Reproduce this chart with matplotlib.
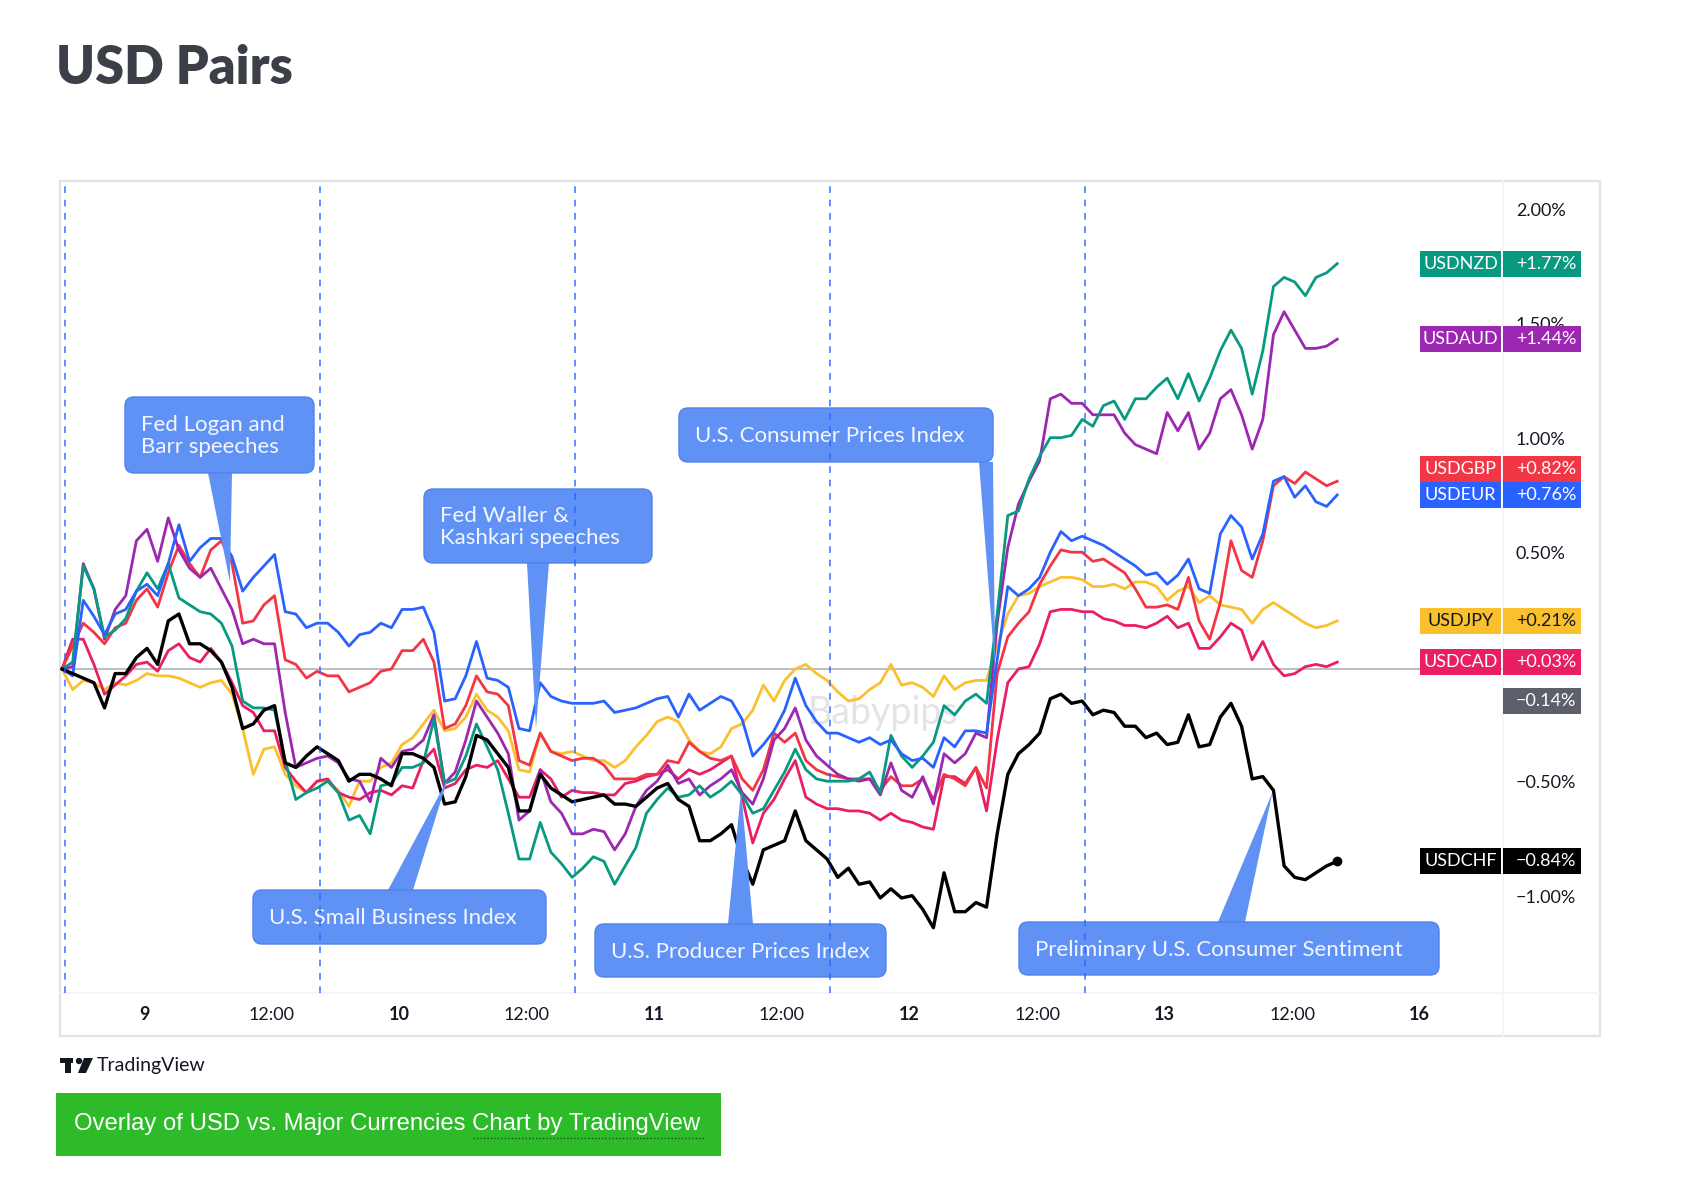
"""USD pairs overlay: % change of USD vs. the majors over one week, with event callouts."""

import matplotlib
matplotlib.use("Agg")
import matplotlib.pyplot as plt
import numpy as np
from matplotlib.lines import Line2D
from matplotlib.patches import Circle, FancyBboxPatch, Polygon, Rectangle
from matplotlib.transforms import Affine2D, blended_transform_factory

W, H = 1698, 1192  # output size in px at dpi 100

plt.rcParams["font.family"] = ["Lato", "DejaVu Sans"]

# --- Data: hourly % change since the first bar (9th -> 13th) ----------------
usdnzd = [
    0.00, 0.03, 0.45, 0.35, 0.14, 0.17, 0.22, 0.34, 0.42, 0.35, 0.46, 0.31,
    0.28, 0.25, 0.24, 0.20, 0.10, -0.14, -0.17, -0.17, -0.18, -0.40, -0.57, -0.54,
    -0.52, -0.49, -0.54, -0.66, -0.64, -0.72, -0.51, -0.50, -0.43, -0.43, -0.41, -0.22,
    -0.50, -0.48, -0.38, -0.24, -0.34, -0.44, -0.63, -0.83, -0.83, -0.67, -0.80,
    -0.85, -0.91, -0.87, -0.82, -0.84, -0.94, -0.86, -0.78, -0.63, -0.57,
    -0.52, -0.56, -0.55, -0.51, -0.56, -0.53, -0.49, -0.55, -0.63, -0.61,
    -0.53, -0.45, -0.35, -0.44, -0.48, -0.49, -0.49, -0.49, -0.48, -0.45,
    -0.54, -0.29, -0.38, -0.43, -0.38, -0.32, -0.16, -0.20, -0.14, -0.11, -0.15, 0.24,
    0.67, 0.69, 0.83, 0.93, 1.01, 1.01, 1.02, 1.09, 1.06, 1.15,
    1.17, 1.09, 1.18, 1.18, 1.23, 1.27, 1.18, 1.29, 1.17, 1.27,
    1.39, 1.48, 1.40, 1.20, 1.39, 1.67, 1.71, 1.69, 1.63, 1.71, 1.73, 1.77,
]
usdaud = [
    0.00, 0.01, 0.46, 0.35, 0.13, 0.26, 0.32, 0.56, 0.61, 0.47, 0.66, 0.52,
    0.44, 0.40, 0.44, 0.35, 0.26, 0.11, 0.13, 0.11, 0.11, -0.19, -0.43, -0.41,
    -0.39, -0.38, -0.41, -0.48, -0.49, -0.58, -0.39, -0.43, -0.36, -0.35, -0.31, -0.20,
    -0.50, -0.45, -0.31, -0.14, -0.21, -0.28, -0.37, -0.66, -0.62, -0.44, -0.58,
    -0.63, -0.72, -0.72, -0.70, -0.71, -0.79, -0.72, -0.60, -0.53, -0.49,
    -0.42, -0.50, -0.48, -0.55, -0.51, -0.48, -0.44, -0.54, -0.59, -0.48,
    -0.31, -0.26, -0.17, -0.31, -0.38, -0.42, -0.46, -0.48, -0.49, -0.48,
    -0.55, -0.41, -0.53, -0.56, -0.47, -0.59, -0.37, -0.41, -0.37, -0.28, -0.30, 0.20,
    0.53, 0.72, 0.82, 0.91, 1.18, 1.20, 1.16, 1.16, 1.11, 1.11,
    1.11, 1.03, 0.98, 0.96, 0.94, 1.12, 1.04, 1.12, 0.96, 1.03,
    1.18, 1.22, 1.11, 0.96, 1.09, 1.46, 1.56, 1.48, 1.40, 1.40, 1.41, 1.44,
]
usdgbp = [
    0.00, 0.10, 0.20, 0.16, 0.11, 0.18, 0.20, 0.30, 0.35, 0.27, 0.42, 0.54,
    0.46, 0.40, 0.52, 0.56, 0.46, 0.20, 0.21, 0.28, 0.32, 0.04, 0.02, -0.04,
    -0.01, -0.03, -0.03, -0.10, -0.08, -0.06, -0.01, 0.00, 0.08, 0.08, 0.13, 0.03,
    -0.26, -0.24, -0.16, -0.03, -0.10, -0.11, -0.16, -0.40, -0.42, -0.28, -0.36,
    -0.38, -0.40, -0.39, -0.39, -0.42, -0.48, -0.48, -0.48, -0.46, -0.46,
    -0.40, -0.41, -0.32, -0.36, -0.39, -0.40, -0.38, -0.48, -0.53, -0.44,
    -0.28, -0.32, -0.28, -0.40, -0.44, -0.46, -0.47, -0.48, -0.48, -0.48,
    -0.53, -0.47, -0.51, -0.51, -0.48, -0.57, -0.46, -0.48, -0.51, -0.43, -0.52, -0.02,
    0.14, 0.20, 0.25, 0.37, 0.45, 0.52, 0.51, 0.51, 0.47, 0.48,
    0.45, 0.42, 0.35, 0.27, 0.27, 0.28, 0.26, 0.40, 0.21, 0.13,
    0.29, 0.56, 0.43, 0.40, 0.56, 0.80, 0.84, 0.81, 0.86, 0.83, 0.80, 0.82,
]
usdeur = [
    0.00, -0.03, 0.30, 0.23, 0.15, 0.24, 0.26, 0.34, 0.37, 0.32, 0.46, 0.63,
    0.47, 0.53, 0.57, 0.57, 0.49, 0.34, 0.40, 0.45, 0.50, 0.25, 0.24, 0.18,
    0.20, 0.20, 0.16, 0.10, 0.15, 0.16, 0.20, 0.18, 0.26, 0.26, 0.27, 0.16,
    -0.14, -0.13, -0.03, 0.12, -0.04, -0.05, -0.08, -0.26, -0.27, -0.06, -0.12,
    -0.14, -0.15, -0.15, -0.15, -0.14, -0.19, -0.18, -0.17, -0.15, -0.13,
    -0.12, -0.21, -0.11, -0.18, -0.15, -0.12, -0.14, -0.22, -0.38, -0.33,
    -0.27, -0.18, -0.04, -0.16, -0.23, -0.28, -0.28, -0.30, -0.32, -0.30,
    -0.33, -0.31, -0.37, -0.40, -0.39, -0.43, -0.30, -0.34, -0.27, -0.27, -0.28, 0.04,
    0.36, 0.32, 0.35, 0.40, 0.51, 0.60, 0.56, 0.58, 0.56, 0.54,
    0.51, 0.48, 0.45, 0.41, 0.42, 0.37, 0.41, 0.48, 0.35, 0.33,
    0.59, 0.67, 0.62, 0.48, 0.59, 0.82, 0.84, 0.75, 0.80, 0.73, 0.71, 0.76,
]
usdjpy = [
    0.00, -0.09, -0.05, -0.06, -0.09, -0.06, -0.07, -0.05, -0.02, -0.03, -0.03, -0.04,
    -0.06, -0.08, -0.06, -0.05, -0.11, -0.26, -0.46, -0.35, -0.34, -0.46, -0.51, -0.54,
    -0.49, -0.49, -0.53, -0.60, -0.49, -0.49, -0.43, -0.41, -0.33, -0.30, -0.24, -0.18,
    -0.27, -0.26, -0.21, -0.11, -0.18, -0.21, -0.27, -0.44, -0.45, -0.28, -0.36,
    -0.37, -0.36, -0.38, -0.40, -0.40, -0.43, -0.40, -0.34, -0.29, -0.23,
    -0.21, -0.23, -0.31, -0.36, -0.37, -0.34, -0.26, -0.24, -0.18, -0.07,
    -0.14, -0.05, 0.00, 0.02, -0.02, -0.05, -0.10, -0.14, -0.13, -0.09,
    -0.06, 0.02, -0.07, -0.06, -0.08, -0.12, -0.03, -0.09, -0.06, -0.05, -0.05, 0.10,
    0.24, 0.32, 0.33, 0.36, 0.38, 0.40, 0.40, 0.39, 0.36, 0.36,
    0.37, 0.35, 0.38, 0.38, 0.36, 0.30, 0.34, 0.36, 0.29, 0.32,
    0.28, 0.27, 0.26, 0.20, 0.26, 0.29, 0.26, 0.23, 0.20, 0.18, 0.19, 0.21,
]
usdcad = [
    0.00, 0.13, 0.13, 0.02, -0.11, -0.07, -0.03, 0.02, 0.03, -0.01, 0.08, 0.11,
    0.05, 0.03, 0.09, 0.03, -0.06, -0.16, -0.19, -0.27, -0.27, -0.43, -0.49, -0.54,
    -0.49, -0.48, -0.54, -0.56, -0.57, -0.54, -0.53, -0.55, -0.51, -0.52, -0.40, -0.35,
    -0.52, -0.50, -0.44, -0.42, -0.43, -0.40, -0.48, -0.56, -0.56, -0.44, -0.48,
    -0.56, -0.53, -0.54, -0.54, -0.55, -0.55, -0.50, -0.49, -0.47, -0.46,
    -0.44, -0.48, -0.44, -0.46, -0.44, -0.41, -0.38, -0.56, -0.76, -0.63,
    -0.57, -0.48, -0.40, -0.56, -0.59, -0.61, -0.61, -0.62, -0.62, -0.63,
    -0.66, -0.63, -0.66, -0.67, -0.69, -0.70, -0.47, -0.47, -0.50, -0.43, -0.62, -0.31,
    -0.06, 0.00, 0.01, 0.11, 0.25, 0.26, 0.26, 0.25, 0.25, 0.22,
    0.21, 0.19, 0.19, 0.18, 0.20, 0.23, 0.18, 0.20, 0.09, 0.09,
    0.14, 0.20, 0.17, 0.04, 0.12, 0.02, -0.03, -0.02, 0.01, 0.02, 0.01, 0.03,
]
usdchf = [
    0.00, -0.02, -0.04, -0.06, -0.17, -0.02, -0.02, 0.05, 0.09, 0.02, 0.21, 0.24,
    0.11, 0.11, 0.08, 0.03, -0.08, -0.26, -0.24, -0.18, -0.16, -0.41, -0.43, -0.38,
    -0.34, -0.37, -0.40, -0.49, -0.46, -0.46, -0.48, -0.51, -0.37, -0.37, -0.39, -0.43,
    -0.59, -0.58, -0.47, -0.29, -0.31, -0.37, -0.43, -0.62, -0.62, -0.46, -0.52,
    -0.55, -0.58, -0.57, -0.56, -0.55, -0.59, -0.59, -0.60, -0.56, -0.52,
    -0.50, -0.57, -0.60, -0.75, -0.75, -0.72, -0.68, -0.83, -0.94, -0.79,
    -0.77, -0.75, -0.62, -0.75, -0.79, -0.83, -0.91, -0.87, -0.94, -0.93,
    -1.00, -0.96, -1.00, -0.99, -1.05, -1.13, -0.89, -1.06, -1.06, -1.02, -1.04, -0.72,
    -0.46, -0.37, -0.33, -0.28, -0.13, -0.11, -0.15, -0.14, -0.20, -0.18,
    -0.19, -0.25, -0.25, -0.30, -0.28, -0.33, -0.32, -0.20, -0.34, -0.33,
    -0.21, -0.15, -0.25, -0.48, -0.47, -0.53, -0.86, -0.91, -0.92, -0.89, -0.86, -0.84,
]

# drawing order: last one ends up on top
PAIRS = ["USDJPY", "USDCAD", "USDGBP", "USDAUD", "USDNZD", "USDEUR", "USDCHF"]
VALUES = [usdjpy, usdcad, usdgbp, usdaud, usdnzd, usdeur, usdchf]
COLORS = ["#fbc02d", "#e91e63", "#f23645", "#9c27b0", "#089981", "#2962ff", "#000000"]
MAIN_LAST = -0.14  # grey value marker on the price scale

TIME_LABELS = ["9", "12:00", "10", "12:00", "11", "12:00", "12", "12:00", "13", "12:00", "16"]
FIRST_TICK_HOUR = 7.75
SESSION_BREAKS = [0.3, 24.3, 48.3, 72.3, 96.3]
PRICE_TICKS = [2.0, 1.5, 1.0, 0.5, 0.0, -0.5, -1.0]

EVENTS = [
    "Fed Logan and\nBarr speeches",
    "Fed Waller &\nKashkari speeches",
    "U.S. Consumer Prices Index",
    "U.S. Small Business Index",
    "U.S. Producer Prices Index",
    "Preliminary U.S. Consumer Sentiment",
]
EVENT_TIPS = [(15.8, 0.38), (44.6, -0.26), (87.8, 0.0), (36.3, -0.48), (63.9, -0.53), (113.9, -0.54)]

# --- Layout, in reference pixels (origin top-left) ---------------------------
PLOT = (60, 181, 1503, 993)
FRAME = (60, 181, 1600, 1036)
EVENT_BOXES = [
    (125, 397, 314, 473),
    (424, 489, 652, 563),
    (679, 408, 993, 462),
    (253, 890, 546, 944),
    (595, 924, 886, 977),
    (1019, 922, 1439, 975),
]
EVENT_BASES = [(208, 232), (527, 549), (979, 993), (388, 413), (728, 753), (1218, 1245)]

CALLOUT_BLUE = "#6092f6"
TEXT = "#131722"
BORDER = "#e0e3eb"

for v in VALUES:
    assert len(v) == len(usdnzd)

fig = plt.figure(figsize=(W / 100, H / 100), dpi=100)
PX = Affine2D().scale(1 / W, -1 / H).translate(0, 1) + fig.transFigure

x0, y0, x1, y1 = PLOT
ax = fig.add_axes([x0 / W, 1 - y1 / H, (x1 - x0) / W, (y1 - y0) / H])
ax.set_axis_off()
ax.set_xlim(-0.19, 135.6)
ax.set_ylim(-1.415, 2.131)
ymin, ymax = ax.get_ylim()
val_per_px = (ymax - ymin) / (y1 - y0)

bt = blended_transform_factory(PX, ax.transData)   # x in px, y in %
tb = blended_transform_factory(ax.transData, PX)   # x in hours, y in px

# frame + separators
ax.add_patch(Rectangle((FRAME[0], FRAME[1]), FRAME[2] - FRAME[0], FRAME[3] - FRAME[1],
                       transform=PX, fill=False, ec=BORDER, lw=1.6, clip_on=False, zorder=0))
ax.add_line(Line2D([FRAME[0], FRAME[2]], [y1, y1], transform=PX, color="#f0f3fa", lw=1.2, clip_on=False))
ax.add_line(Line2D([x1, x1], [FRAME[1], FRAME[3]], transform=PX, color="#f0f3fa", lw=1.2, clip_on=False))

# watermark
ax.text(883, 713, "Babypips", transform=PX, ha="center", va="center", fontsize=27,
        color="#e3e4e8", zorder=0.5)

hours = np.arange(len(usdnzd))
ax.hlines(0, 0, 135.6, color="#a9acb5", lw=1.1, zorder=1)

for name, vals, color in zip(PAIRS, VALUES, COLORS):
    ax.plot(hours, vals, color=color, lw=2.4 if name == "USDCHF" else 2.0, zorder=2)
ax.plot(hours[-1], usdchf[-1], "o", color="black", ms=6, zorder=2)

# session breaks
for b in SESSION_BREAKS:
    ax.axvline(b, color="#2962ff", lw=1.2, dashes=(4, 4), alpha=0.85, zorder=7)


def to_px(h, v):
    X, Y = ax.transData.transform((h, v))
    return X, H - Y


for text, box, base, tip in zip(EVENTS, EVENT_BOXES, EVENT_BASES, EVENT_TIPS):
    bx0, by0, bx1, by1 = box
    tx, ty = to_px(*tip)
    edge = by1 if ty > by1 else by0
    ax.add_patch(Polygon([(base[0], edge), (base[1], edge), (tx, ty)], closed=True,
                         transform=PX, fc=CALLOUT_BLUE, ec="none", clip_on=False, zorder=5))
    ax.add_patch(FancyBboxPatch((bx0, by0), bx1 - bx0, by1 - by0,
                                boxstyle="round,pad=0,rounding_size=9", transform=PX,
                                fc=CALLOUT_BLUE, ec="#4f82ee", lw=1.0, clip_on=False, zorder=5))
    ax.text(bx0 + 16, (by0 + by1) / 2 + 1, text, transform=PX, ha="left", va="center",
            fontsize=16, color="#f3f6ff", linespacing=1.08, zorder=6, clip_on=False)

# time axis
for i, lab in enumerate(TIME_LABELS):
    ax.text(FIRST_TICK_HOUR + 12 * i, 1015, lab, transform=tb, ha="center", va="center",
            fontsize=13, color=TEXT, fontweight="bold" if ":" not in lab else "normal",
            clip_on=False)

# price scale
for v in PRICE_TICKS:
    ax.text(1516, v, f"{v:.2f}%".replace("-", "\u2212"), transform=bt, ha="left",
            va="center", fontsize=13, color=TEXT, clip_on=False, zorder=3)

# last-value badges, pushed apart where they would overlap
badges = [(name, vals[-1], color) for name, vals, color in zip(PAIRS, VALUES, COLORS)]
badges.append((None, MAIN_LAST, "#5d606b"))
badges.sort(key=lambda b: b[1])
bh = 26 * val_per_px
prev = None
for name, last, color in badges:
    y = last if prev is None else max(last, prev + bh)
    prev = y
    fg = TEXT if color == "#fbc02d" else "white"
    if name:
        ax.add_patch(Rectangle((1420, y - bh / 2), 81, bh, transform=bt, fc=color, ec="none",
                               clip_on=False, zorder=10))
        ax.text(1460.5, y, name, transform=bt, ha="center", va="center", fontsize=13,
                color=fg, clip_on=False, zorder=11)
    ax.add_patch(Rectangle((1503, y - bh / 2), 78, bh, transform=bt, fc=color, ec="none",
                           clip_on=False, zorder=10))
    ax.text(1516, y, f"{last:+.2f}%".replace("-", "\u2212"), transform=bt, ha="left",
            va="center", fontsize=13, color=fg, clip_on=False, zorder=11)

# title
fig.text(56, 84, "USD Pairs", transform=PX, ha="left", va="baseline", fontsize=37.5,
         fontweight="heavy", color="#3b3f47")

# TradingView mark
for art in [Rectangle((60, 1058), 13, 5), Rectangle((65, 1058), 6, 15),
            Circle((79, 1061), 3.2), Polygon([(84, 1058), (93, 1058), (86, 1073), (78, 1073)])]:
    art.set_transform(PX)
    art.set_facecolor(TEXT)
    art.set_edgecolor("none")
    fig.add_artist(art)
fig.text(97, 1065, "TradingView", transform=PX, ha="left", va="center", fontsize=14, color=TEXT)

# caption button
fig.add_artist(Rectangle((56, 1093), 665, 63, transform=PX, fc="#2dbb2a", ec="none"))
fig.text(74, 1124, "Overlay of USD vs. Major Currencies Chart by TradingView", transform=PX,
         ha="left", va="center", fontsize=17.2, color="white",
         family=["Liberation Sans Narrow", "Liberation Sans", "DejaVu Sans"])
fig.add_artist(Line2D([473, 704], [1138, 1138], transform=PX, color="#1d4d1c", lw=1,
                      dashes=(1, 1.5)))

fig.savefig("out.png", dpi=100)
